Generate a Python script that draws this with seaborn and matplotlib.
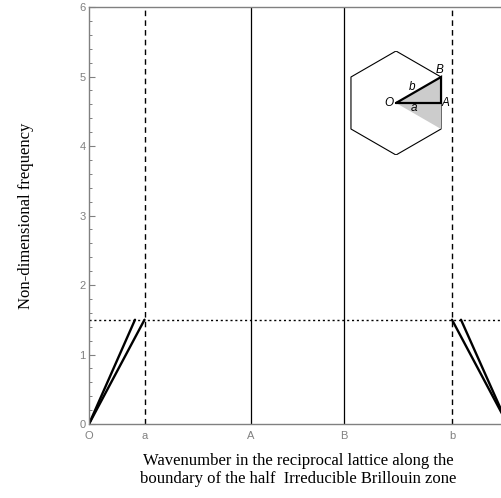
import numpy as np
import pandas as pd
import matplotlib
matplotlib.use("Agg")
import matplotlib.pyplot as plt
from matplotlib.ticker import AutoMinorLocator, FixedLocator
from matplotlib.patches import Polygon
import seaborn as sns

# Path positions along the boundary of the half irreducible Brillouin zone
path_labels = ["O", "a", "A", "B", "b"]
path_positions = [0.0, 0.555, 1.62, 2.55, 3.63]
path_end = 4.185          # back to O

# Dispersion branches (wavenumber, non-dimensional frequency)
branch1_k = [0.0, 0.555]
branch1_w = [0.0, 1.5]
branch2_k = [0.0, 0.46]
branch2_w = [0.0, 1.5]
branch3_k = [3.63, 4.185]
branch3_w = [1.5, 0.0]
branch4_k = [3.72, 4.185]
branch4_w = [1.5, 0.0]

cutoff_freq = 1.5
y_max = 6

sns.set_style("ticks")
plt.rcParams["font.family"] = ["Liberation Sans", "DejaVu Sans"]

W, H = 501, 498
fig = plt.figure(figsize=(W / 100, H / 100), dpi=100)
x0, x1, y0, y1 = 89, 507.5, 424, 7
ax = fig.add_axes([x0 / W, 1 - y0 / H, (x1 - x0) / W, (y0 - y1) / H])

frames = []
for name, k, w in [("b1", branch1_k, branch1_w), ("b2", branch2_k, branch2_w),
                   ("b3", branch3_k, branch3_w), ("b4", branch4_k, branch4_w)]:
    frames.append(pd.DataFrame({"k": k, "w": w, "branch": name}))
df = pd.concat(frames, ignore_index=True)

sns.lineplot(data=df, x="k", y="w", units="branch", estimator=None, sort=False,
             color="black", lw=1.7, ax=ax, legend=False)

# Path markers
for lab, pos in zip(path_labels, path_positions):
    if lab in ("a", "b"):
        ax.axvline(pos, color="black", lw=1.0, ls=(0, (4, 3)), zorder=1)
    elif lab in ("A", "B"):
        ax.axvline(pos, color="black", lw=0.9, zorder=1)

ax.axhline(cutoff_freq, color="black", lw=1.0, ls=(0, (1.5, 2.0)), zorder=1)

ax.set_xlim(0, path_end)
ax.set_ylim(0, y_max)

ax.xaxis.set_major_locator(FixedLocator(path_positions))
ax.set_xticklabels(path_labels)
ax.yaxis.set_minor_locator(AutoMinorLocator(5))

grey = "#808080"
ax.tick_params(axis="y", which="major", direction="in", length=4, width=0.8,
               color=grey, labelcolor=grey, labelsize=8, pad=2.5)
ax.tick_params(axis="y", which="minor", direction="in", length=2.5, width=0.7,
               color=grey)
ax.tick_params(axis="x", which="major", length=0, labelcolor=grey,
               labelsize=8, pad=5)
for side in ["left", "top", "bottom", "right"]:
    ax.spines[side].set_color(grey)
    ax.spines[side].set_linewidth(1.0)

serif = ["Liberation Serif", "DejaVu Serif"]
ax.set_xlabel("Wavenumber in the reciprocal lattice along the\n"
              "boundary of the half  Irreducible Brillouin zone",
              family=serif, fontsize=12, color="black", linespacing=1.15,
              labelpad=9)
ax.set_ylabel("Non-dimensional frequency", family=serif, fontsize=12,
              color="black")
ax.yaxis.set_label_coords((34 - x0) / (x1 - x0), 0.5)

# Inset: hexagonal Brillouin zone with the half irreducible part shaded
cx, cy, R = 396, 103, 52
ins = fig.add_axes([(cx - R) / W, 1 - (cy + R) / H, 2 * R / W, 2 * R / H])
ins.set_xlim(-1, 1)
ins.set_ylim(-1, 1)
ins.axis("off")
ang = np.deg2rad(np.arange(30, 390, 60))
hexagon = np.column_stack([np.cos(ang), np.sin(ang)])
ins.add_patch(Polygon(hexagon, closed=True, fill=False, ec="black", lw=0.8))
s3 = np.sqrt(3) / 2
ins.add_patch(Polygon([(0, 0), (s3, 0.5), (s3, -0.5)], closed=True,
                      fc="#cccccc", ec="none"))
ins.plot([0, s3, s3, 0], [0, 0, 0.5, 0], color="black", lw=1.6,
         solid_joinstyle="miter")
lab_kw = dict(fontsize=8.5, style="italic", color="black")
ins.text(-0.04, 0.0, "O", ha="right", va="center", **lab_kw)
ins.text(s3 + 0.02, 0.0, "A", ha="left", va="center", **lab_kw)
ins.text(s3 - 0.02, 0.52, "B", ha="center", va="bottom", **lab_kw)
ins.text(0.30, 0.31, "b", ha="center", va="center", **lab_kw)
ins.text(0.35, -0.09, "a", ha="center", va="center", **lab_kw)

fig.savefig("out.png", dpi=100)
